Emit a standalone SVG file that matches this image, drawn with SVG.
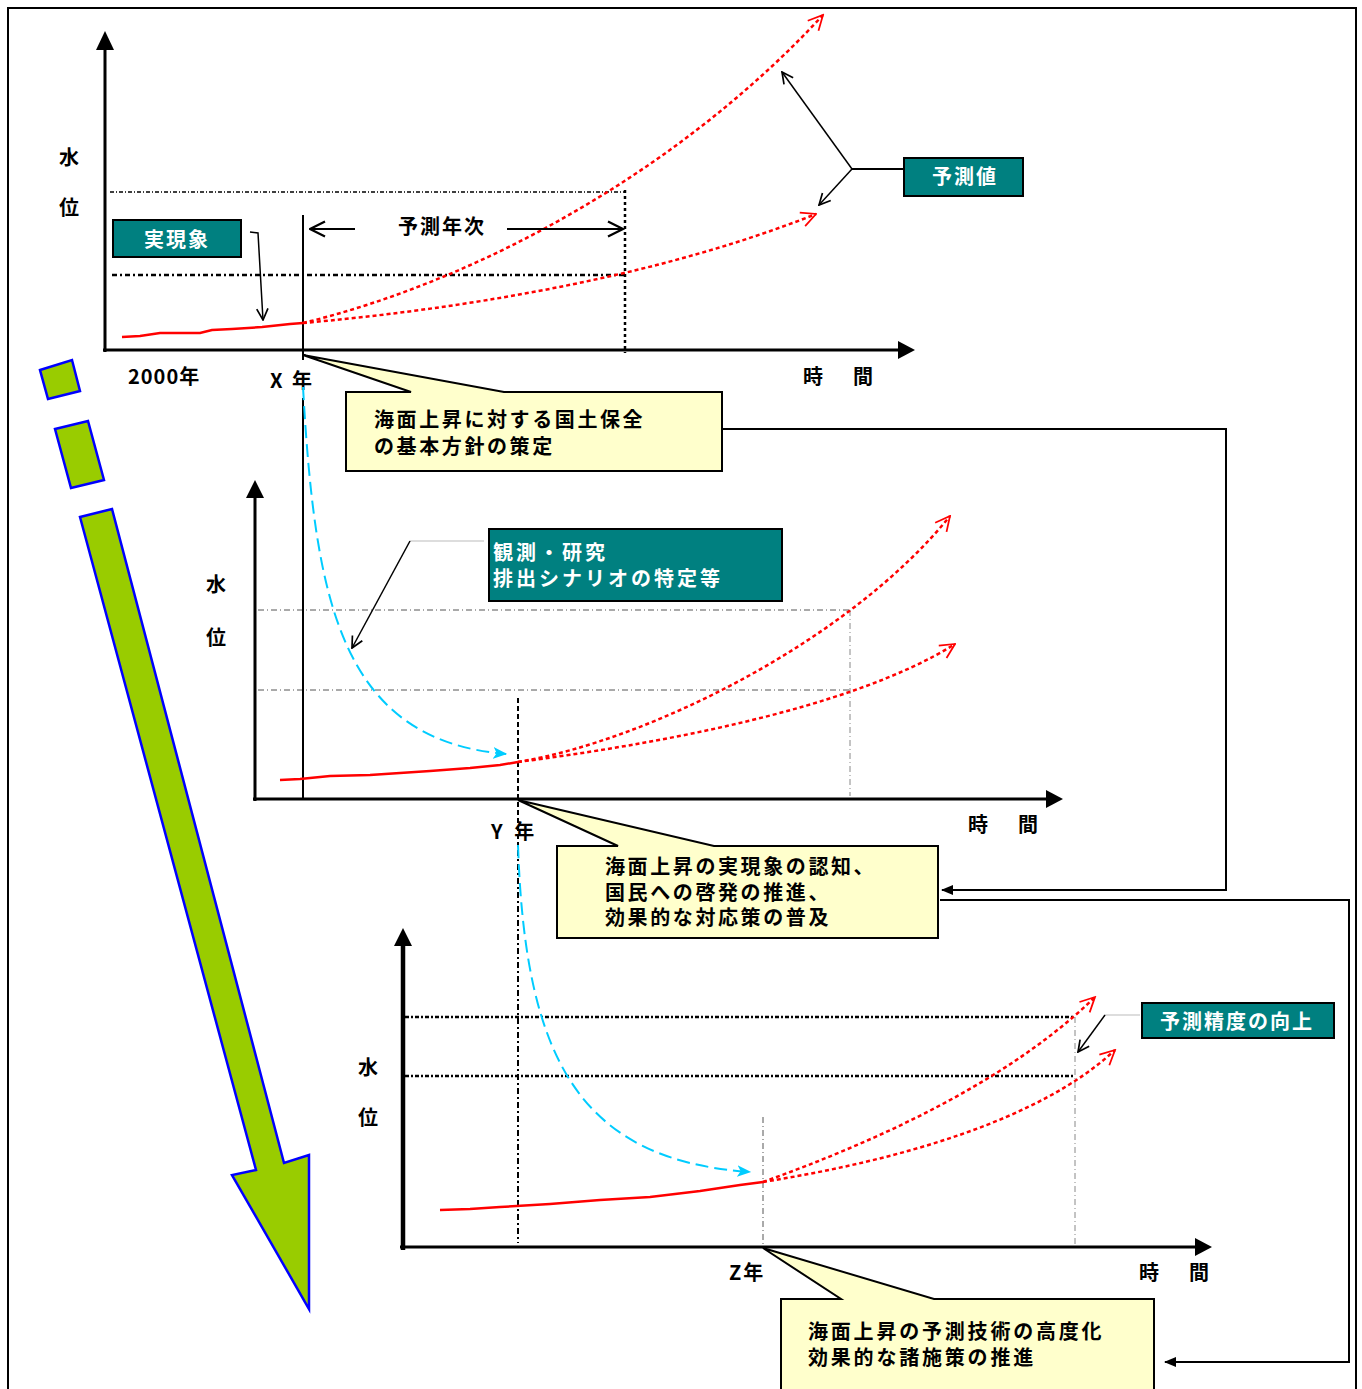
<svg xmlns="http://www.w3.org/2000/svg" width="1362" height="1389" viewBox="0 0 1362 1389">
<defs>
<style>
text{font-family:"Noto Sans CJK JP","Noto Sans",sans-serif;font-weight:bold;font-size:20px;fill:#000}
.w{fill:#fff}
.teal{fill:#008080;stroke:#000;stroke-width:2}
.callout{fill:#FFFFCC;stroke:#000;stroke-width:2;stroke-linejoin:miter}
.axis{stroke:#000;stroke-width:3;fill:none}
.red{stroke:#FF0000;stroke-width:2.5;fill:none}
.reddot{stroke:#FF0000;stroke-width:2.5;fill:none;stroke-dasharray:4 3;marker-end:url(#openRed)}
.cyan{stroke:#00CCFF;stroke-width:2;fill:none;stroke-dasharray:13 6;marker-end:url(#cyanHead)}
.conn{stroke:#000;stroke-width:2;fill:none}
.lead{stroke:#000;stroke-width:1.5;fill:none;marker-end:url(#openBlack)}
.gray{stroke:#BBBBBB;stroke-width:1.2;fill:none}
</style>
<marker id="openRed" viewBox="0 0 12 12" refX="11" refY="6" markerWidth="7" markerHeight="7" orient="auto" markerUnits="strokeWidth">
<path d="M1,1 L11,6 L1,11" fill="none" stroke="#FF0000" stroke-width="1.2"/>
</marker>
<marker id="openBlack" viewBox="0 0 12 12" refX="11" refY="6" markerWidth="9" markerHeight="9" orient="auto" markerUnits="strokeWidth">
<path d="M1,1 L11,6 L1,11" fill="none" stroke="#000" stroke-width="1.5"/>
</marker>
<marker id="cyanHead" viewBox="0 0 12 12" refX="11" refY="6" markerWidth="7" markerHeight="7" orient="auto" markerUnits="strokeWidth">
<path d="M0,1 L12,6 L0,11 L3,6 Z" fill="#00CCFF"/>
</marker>
<marker id="fillBlack" viewBox="0 0 12 12" refX="11" refY="6" markerWidth="6" markerHeight="6" orient="auto" markerUnits="strokeWidth">
<path d="M0,1 L12,6 L0,11 Z" fill="#000"/>
</marker>
</defs>

<rect id="frame" x="8" y="8" width="1348" height="1400" fill="none" stroke="#000" stroke-width="2"/>

<!-- green progress arrow -->
<g id="progress-arrow" fill="#99CC00" stroke="#0000FF" stroke-width="2.5" stroke-linejoin="miter">
<polygon points="40,370 72,360 80,391 48,399"/>
<polygon points="55,429 88,421 104,480 71,488"/>
<polygon points="80,517 112,509 284,1163 309,1155 309,1309 232,1175 256,1170"/>
</g>

<!-- Chart 1 -->
<g id="chart1">
<line x1="110" y1="192" x2="625" y2="192" stroke="#000" stroke-width="1.5" stroke-dasharray="4 2 1 2"/>
<line x1="112" y1="275" x2="625" y2="275" stroke="#000" stroke-width="2.5" stroke-dasharray="5 3 2 3"/>
<line x1="625" y1="190" x2="625" y2="353" stroke="#000" stroke-width="2.5" stroke-dasharray="3 3"/>
<line class="axis" x1="105" y1="352" x2="105" y2="48"/>
<polygon points="96,50 114,50 105,31" fill="#000"/>
<line class="axis" x1="103" y1="350" x2="900" y2="350"/>
<polygon points="898,341 898,359 915,350" fill="#000"/>
<line x1="303" y1="215" x2="303" y2="360" stroke="#000" stroke-width="2"/>
<text x="59" y="165">水</text>
<text x="59" y="215">位</text>
<text x="128" y="384" letter-spacing="1">2000年</text>
<text x="270" y="388" letter-spacing="2.5">X 年</text>
<text x="803" y="384" letter-spacing="5">時　間</text>
<polyline class="red" points="122,337 140,336 160,333 200,333 212,330 232,329 262,327 290,324 303,323"/>
<path class="reddot" d="M303,323 C480,280 680,170 823,15"/>
<path class="reddot" d="M303,323 C450,310 650,280 816,214"/>
</g>

<g id="label-yosoku-nenji">
<text x="398" y="234" letter-spacing="2">予測年次</text>
<line x1="355" y1="229" x2="310" y2="229" stroke="#000" stroke-width="2" marker-end="url(#openBlack)"/>
<line x1="507" y1="229" x2="623" y2="229" stroke="#000" stroke-width="2" marker-end="url(#openBlack)"/>
</g>

<g id="node-jitsugensho">
<rect class="teal" x="113" y="220" width="128" height="37"/>
<text class="w" x="144" y="247" letter-spacing="2">実現象</text>
</g>

<g id="node-yosokuchi">
<rect class="teal" x="904" y="158" width="119" height="38"/>
<text class="w" x="932" y="184" letter-spacing="2">予測値</text>
</g>

<!-- Chart 2 -->
<g id="chart2">
<line x1="258" y1="610" x2="850" y2="610" stroke="#555" stroke-width="1" stroke-dasharray="6 3 1 3"/>
<line x1="258" y1="690" x2="850" y2="690" stroke="#555" stroke-width="1" stroke-dasharray="6 3 1 3"/>
<line x1="850" y1="610" x2="850" y2="796" stroke="#888" stroke-width="1" stroke-dasharray="6 3 1 3"/>
<line x1="518" y1="698" x2="518" y2="850" stroke="#000" stroke-width="2" stroke-dasharray="5 3"/>
<line class="axis" x1="255" y1="801" x2="255" y2="496"/>
<polygon points="246,498 264,498 255,480" fill="#000"/>
<line class="axis" x1="253" y1="799" x2="1048" y2="799"/>
<polygon points="1046,790 1046,808 1063,799" fill="#000"/>
<line x1="303" y1="398" x2="303" y2="798" stroke="#000" stroke-width="2"/>
<text x="206" y="592">水</text>
<text x="206" y="645">位</text>
<text x="491" y="839" letter-spacing="3.5">Y 年</text>
<text x="968" y="832" letter-spacing="5">時　間</text>
<polyline class="red" points="280,780 300,779 330,776 370,775 400,773 430,771 470,768 500,765 518,762"/>
<path class="reddot" d="M518,762 C650,740 850,640 950,516"/>
<path class="reddot" d="M518,762 C650,745 850,710 955,644"/>
<path class="cyan" d="M303,387 C315,600 340,740 506,754"/>
</g>

<g id="node-kansoku">
<rect class="teal" x="489" y="529" width="293" height="72"/>
<text class="w" x="493" y="560" letter-spacing="3">観測・研究</text>
<text class="w" x="493" y="586" letter-spacing="3">排出シナリオの特定等</text>
</g>

<!-- Chart 3 -->
<g id="chart3">
<line x1="405" y1="1017" x2="1075" y2="1017" stroke="#000" stroke-width="2.5" stroke-dasharray="4 2 2 2"/>
<line x1="405" y1="1076" x2="1075" y2="1076" stroke="#000" stroke-width="2.5" stroke-dasharray="4 2 2 2"/>
<line x1="1075" y1="1017" x2="1075" y2="1244" stroke="#888" stroke-width="1" stroke-dasharray="6 3 1 3"/>
<line x1="763" y1="1117" x2="763" y2="1244" stroke="#555" stroke-width="1" stroke-dasharray="6 3 1 3"/>
<line x1="518" y1="850" x2="518" y2="1243" stroke="#000" stroke-width="2" stroke-dasharray="6 3 2 3"/>
<line x1="403" y1="1250" x2="403" y2="944" stroke="#000" stroke-width="4.5"/>
<polygon points="394,946 412,946 403,928" fill="#000"/>
<line class="axis" x1="400" y1="1247" x2="1197" y2="1247"/>
<polygon points="1195,1238 1195,1256 1212,1247" fill="#000"/>
<text x="358" y="1075">水</text>
<text x="358" y="1125">位</text>
<text x="729" y="1280" letter-spacing="2">Z年</text>
<text x="1139" y="1280" letter-spacing="5">時　間</text>
<polyline class="red" points="440,1210 470,1209 500,1207 550,1204 600,1200 650,1197 700,1191 740,1185 763,1182"/>
<path class="reddot" d="M763,1182 C880,1140 1010,1080 1095,997"/>
<path class="reddot" d="M763,1182 C900,1160 1040,1120 1115,1050"/>
<path class="cyan" d="M518,845 C525,1060 580,1160 750,1172"/>
</g>

<g id="node-seido">
<rect class="teal" x="1142" y="1003" width="192" height="35"/>
<text class="w" x="1160" y="1029" letter-spacing="2">予測精度の向上</text>
</g>

<!-- Callouts -->
<g id="callout1">
<path class="callout" d="M346,392 L411,392 L303,355 L504,392 L722,392 L722,471 L346,471 Z"/>
<text x="374" y="427" letter-spacing="2.6">海面上昇に対する国土保全</text>
<text x="374" y="454" letter-spacing="2.6">の基本方針の策定</text>
</g>
<g id="callout2">
<path class="callout" d="M557,846 L618,846 L518,800 L714,846 L938,846 L938,938 L557,938 Z"/>
<text x="605" y="874" letter-spacing="2.6">海面上昇の実現象の認知、</text>
<text x="605" y="900" letter-spacing="2.6">国民への啓発の推進、</text>
<text x="605" y="925" letter-spacing="2.6">効果的な対応策の普及</text>
</g>
<g id="callout3">
<path class="callout" d="M781,1299 L841,1299 L763,1248 L934,1299 L1154,1299 L1154,1396 L781,1396 Z"/>
<text x="808" y="1339" letter-spacing="2.8">海面上昇の予測技術の高度化</text>
<text x="808" y="1365" letter-spacing="2.8">効果的な諸施策の推進</text>
</g>

<!-- Connectors -->
<g id="connectors">
<path class="lead" d="M250,232 L258,233 L263,320" stroke-width="2"/>
<path d="M903,169 L852,169" class="conn"/>
<path class="lead" d="M852,169 L782,72" stroke-width="2"/>
<path class="lead" d="M852,169 L819,205" stroke-width="2"/>
<path class="gray" d="M484,541 L410,541"/>
<path class="lead" d="M410,541 L352,648" stroke-width="1"/>
<path class="gray" d="M1140,1015 L1105,1015"/>
<path class="lead" d="M1105,1015 L1078,1052"/>
<path class="conn" d="M722,429 H1226 V890 H942" marker-end="url(#fillBlack)"/>
<path class="conn" d="M940,900 H1349 V1362 H1165" marker-end="url(#fillBlack)"/>
</g>
</svg>
